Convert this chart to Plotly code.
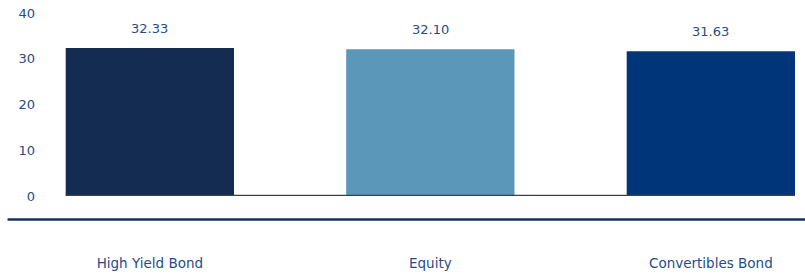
import plotly.graph_objects as go

categories = ["High Yield Bond", "Equity", "Convertibles Bond"]
values = [32.33, 32.10, 31.63]
labels = ["32.33", "32.10", "31.63"]
colors = ["#142B52", "#5A97B9", "#003679"]
y_ticks = [0, 10, 20, 30, 40]

FONT = "'DejaVu Sans', sans-serif"
TXT = "#1F4C8A"
FS = 13

fig = go.Figure()
fig.add_trace(go.Bar(
    x=list(range(len(categories))), y=values,
    marker=dict(color=colors, line=dict(width=0)),
    width=0.6, hoverinfo="skip",
))

for i, (v, t) in enumerate(zip(values, labels)):
    fig.add_annotation(x=i, y=v, text=t, showarrow=False, yanchor="bottom",
                       yshift=10, font=dict(family=FONT, size=FS, color=TXT))

fig.add_shape(type="line", xref="x", yref="y", x0=-0.3, x1=2.3, y0=0, y1=0,
              line=dict(color="#404040", width=2.5))
fig.add_shape(type="line", xref="paper", yref="paper", x0=-0.043, x1=1.02,
              y0=-0.128, y1=-0.128, line=dict(color="#15305E", width=2.5))

fig.update_layout(
    width=805, height=277,
    margin=dict(l=40, r=10, t=13, b=81),
    paper_bgcolor="white", plot_bgcolor="white",
    showlegend=False,
    bargap=0.4,
    font=dict(family=FONT, size=FS, color=TXT),
)
fig.update_xaxes(
    range=[-0.3916, 2.3], automargin=False,
    tickmode="array", tickvals=list(range(len(categories))), ticktext=categories,
    showgrid=False, zeroline=False, showline=False, ticks="",
    ticklabelstandoff=57,
    tickfont=dict(family=FONT, size=13.5, color=TXT),
)
fig.update_yaxes(
    range=[0, 40], tickvals=y_ticks, automargin=False,
    showgrid=False, zeroline=False, showline=False, ticks="",
    ticklabelstandoff=4, ticklabeloverflow="allow",
    tickfont=dict(family=FONT, size=FS, color=TXT),
)

fig.write_html("out.html", config={"displayModeBar": False},
               post_script="document.body.style.margin='0';")
